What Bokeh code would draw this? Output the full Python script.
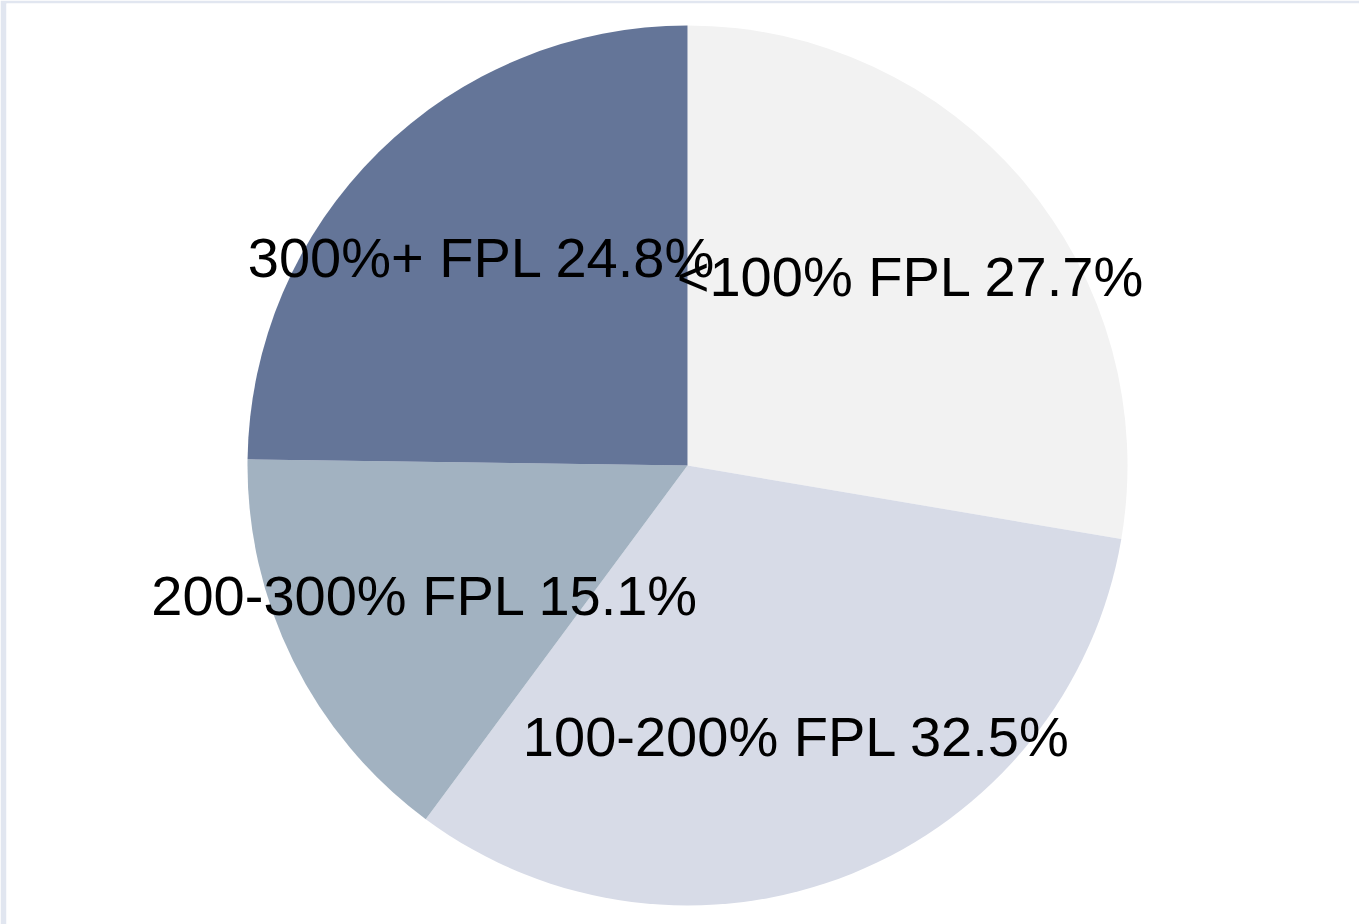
import math
from bokeh.plotting import figure
from bokeh.models import ColumnDataSource
from bokeh.core.properties import value
from bokeh.embed import file_html
from bokeh.resources import INLINE

# ---- data ----
categories = ["<100% FPL", "100-200% FPL", "200-300% FPL", "300%+ FPL"]
shares = [27.7, 32.5, 15.1, 24.8]
colors = ["#f2f2f2", "#d7dbe7", "#a2b2c1", "#647598"]

W, H = 1359, 924
FW, FH = 1353, 921          # frame size (white plotting area)
CX, CY, R = 681, 459, 440
LABEL_FRAC = 0.665

total = sum(shares)
starts, ends, lx, ly, labels = [], [], [], [], []
cum = 0.0
for cat, s in zip(categories, shares):
    a0 = math.pi / 2 - 2 * math.pi * (cum + s) / total
    a1 = math.pi / 2 - 2 * math.pi * cum / total
    starts.append(a0)
    ends.append(a1)
    mid = (a0 + a1) / 2
    lx.append(CX + LABEL_FRAC * R * math.cos(mid))
    ly.append(CY + LABEL_FRAC * R * math.sin(mid))
    labels.append(f"{cat} {s:.1f}%")
    cum += s

src = ColumnDataSource(dict(start=starts, end=ends, color=colors,
                            lx=lx, ly=ly, label=labels))

p = figure(width=W, height=H, x_range=(0, FW), y_range=(0, FH),
           output_backend="svg", toolbar_location=None,
           min_border_left=6, min_border_top=3,
           min_border_right=0, min_border_bottom=0,
           background_fill_color="white",
           border_fill_color="#e1e6f0")
p.axis.visible = False
p.grid.visible = False
p.outline_line_color = None

p.wedge(x=CX, y=CY, radius=R, start_angle="start", end_angle="end",
        direction="anticlock", fill_color="color", line_color=None,
        source=src)

p.text(x="lx", y="ly", text="label", source=src,
       text_font=value("Liberation Sans"), text_font_size="56px",
       text_color="black", text_align="center",
       text_baseline="alphabetic", y_offset=0)

open("out.html", "w").write(file_html(p, INLINE))
